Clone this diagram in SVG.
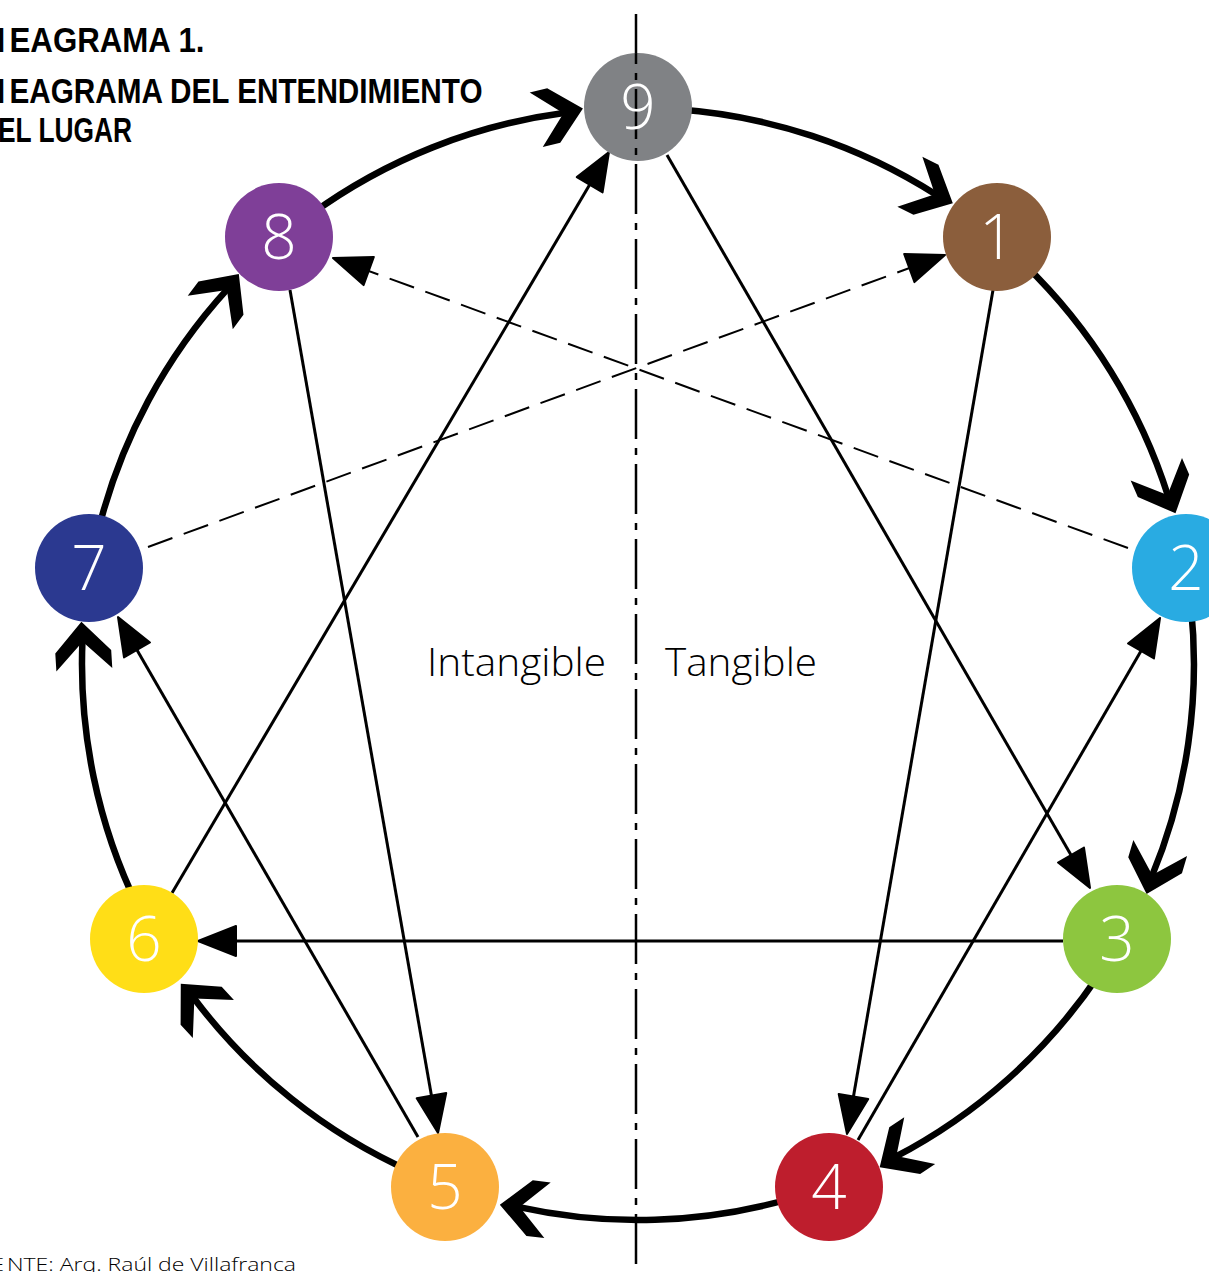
<svg xmlns="http://www.w3.org/2000/svg" xmlns:xlink="http://www.w3.org/1999/xlink" width="1209" height="1272" viewBox="0 0 1209 1272">
<style>
.arc{fill:none;stroke:#000;stroke-width:6.5;marker-end:url(#chev)}
.ln{fill:none;stroke:#000;stroke-width:3;marker-end:url(#tri)}
.dash{fill:none;stroke:#000;stroke-width:2;stroke-dasharray:26 12;marker-end:url(#tri)}
.axis{fill:none;stroke:#000;stroke-width:2.5;stroke-dasharray:50 9 7 9}
.num{font-family:"Open Sans","Liberation Sans",Arial,sans-serif;font-weight:300;font-size:62px;fill:#fff;text-anchor:middle}
.title{font-family:"Liberation Sans",Arial,sans-serif;font-weight:bold;font-size:35px;fill:#000}
.lbl{font-family:"Open Sans","Liberation Sans",Arial,sans-serif;font-weight:300;font-size:38px;fill:#000}
.foot{font-family:"Open Sans","Liberation Sans",Arial,sans-serif;font-weight:300;font-size:19px;fill:#000}
</style>
<defs>
<marker id="chev" markerUnits="userSpaceOnUse" orient="auto" overflow="visible" refX="0" refY="0" markerWidth="10" markerHeight="10">
<path transform="rotate(-6)" d="M18,0 L-12,-28 L-30,-28 L-2,0 L-30,28 L-12,28 Z" fill="#000"/>
</marker>
<marker id="tri" markerUnits="userSpaceOnUse" orient="auto" overflow="visible" refX="0" refY="0" markerWidth="10" markerHeight="10">
<path d="M10,0 L-28,-15 L-28,15 Z" fill="#000" stroke="#000" stroke-width="2" stroke-linejoin="round"/>
</marker>
<clipPath id="clip9"><circle cx="638" cy="107" r="54"/></clipPath>
</defs>
<rect x="0" y="0" width="1209" height="1272" fill="#fff"/>

<g id="title">
<text class="title" y="52"><tspan x="-43">EN</tspan><tspan x="9.5" textLength="195" lengthAdjust="spacingAndGlyphs">EAGRAMA 1.</tspan></text>
<text class="title" y="103"><tspan x="-43">EN</tspan><tspan x="9.5" textLength="473" lengthAdjust="spacingAndGlyphs">EAGRAMA DEL ENTENDIMIENTO</tspan></text>
<text class="title" y="142"><tspan x="-27">D</tspan><tspan x="-2" textLength="134" lengthAdjust="spacingAndGlyphs">EL LUGAR</tspan></text>
</g>

<g id="axis">
<line id="axis-line" class="axis" x1="636" y1="14" x2="636" y2="1272"/>
</g>

<g id="connectors">
<path class="arc" d="M676.8,109.3 A556,556 0 0 1 936.7,195.1"/>
<path class="arc" d="M1024.2,264.1 A556,556 0 0 1 1168.3,496.8"/>
<path class="arc" d="M1190.9,605.9 A556,556 0 0 1 1151.7,876.8"/>
<path class="arc" d="M1098.9,974.9 A556,556 0 0 1 894.7,1157.2"/>
<path class="arc" d="M791.2,1198.5 A556,556 0 0 1 517.7,1206.8"/>
<path class="arc" d="M411.9,1171.9 A556,556 0 0 1 193,997"/>
<path class="arc" d="M138.3,907.7 A556,556 0 0 1 82.5,639.8"/>
<path class="arc" d="M98.5,529.5 A556,556 0 0 1 228.1,288.4"/>
<path class="arc" d="M311.2,214.2 A556,556 0 0 1 565.4,112.8"/>

<path class="ln" d="M667,155 L1085,879.3"/>
<path class="ln" d="M993,290 L848.7,1124.1"/>
<path class="ln" d="M858,1140 L1155,626.7"/>
<path class="ln" d="M290,290 L436.3,1123.2"/>
<path class="ln" d="M418,1137 L123,625.7"/>
<path class="ln" d="M172,893 L603.9,160.6"/>
<path class="ln" d="M1063,941 L208,941"/>
<path class="dash" d="M148,547 L935.6,258.4"/>
<path class="dash" d="M1128,548 L342.4,261.4"/>
</g>

<g id="node-9"><circle cx="638" cy="107" r="54" fill="#808285"/><use xlink:href="#axis-line" href="#axis-line" clip-path="url(#clip9)"/><text class="num" x="638" y="129">9</text></g>
<g id="node-1"><circle cx="997" cy="237" r="54" fill="#8B5E3C"/><text class="num" x="997" y="259">1</text></g>
<g id="node-2"><circle cx="1186" cy="568" r="54" fill="#29ABE2"/><text class="num" x="1186" y="590">2</text></g>
<g id="node-3"><circle cx="1117" cy="939" r="54" fill="#8DC63F"/><text class="num" x="1117" y="961">3</text></g>
<g id="node-4"><circle cx="829" cy="1187" r="54" fill="#BE1E2D"/><text class="num" x="829" y="1209">4</text></g>
<g id="node-5"><circle cx="445" cy="1187" r="54" fill="#FBB040"/><text class="num" x="445" y="1209">5</text></g>
<g id="node-6"><circle cx="144" cy="939" r="54" fill="#FFDE17"/><text class="num" x="144" y="961">6</text></g>
<g id="node-7"><circle cx="89" cy="568" r="54" fill="#2B3990"/><text class="num" x="89" y="590">7</text></g>
<g id="node-8"><circle cx="279" cy="237" r="54" fill="#7F3F98"/><text class="num" x="279" y="259">8</text></g>

<g id="labels">
<text class="lbl" x="427" y="676" textLength="179" lengthAdjust="spacingAndGlyphs">Intangible</text>
<text class="lbl" x="665" y="676" textLength="152" lengthAdjust="spacingAndGlyphs">Tangible</text>
</g>

<g id="footer">
<text class="foot" y="1271"><tspan x="-30">FUE</tspan><tspan x="7" textLength="289" lengthAdjust="spacingAndGlyphs">NTE: Arq. Raúl de Villafranca</tspan></text>
</g>
</svg>
